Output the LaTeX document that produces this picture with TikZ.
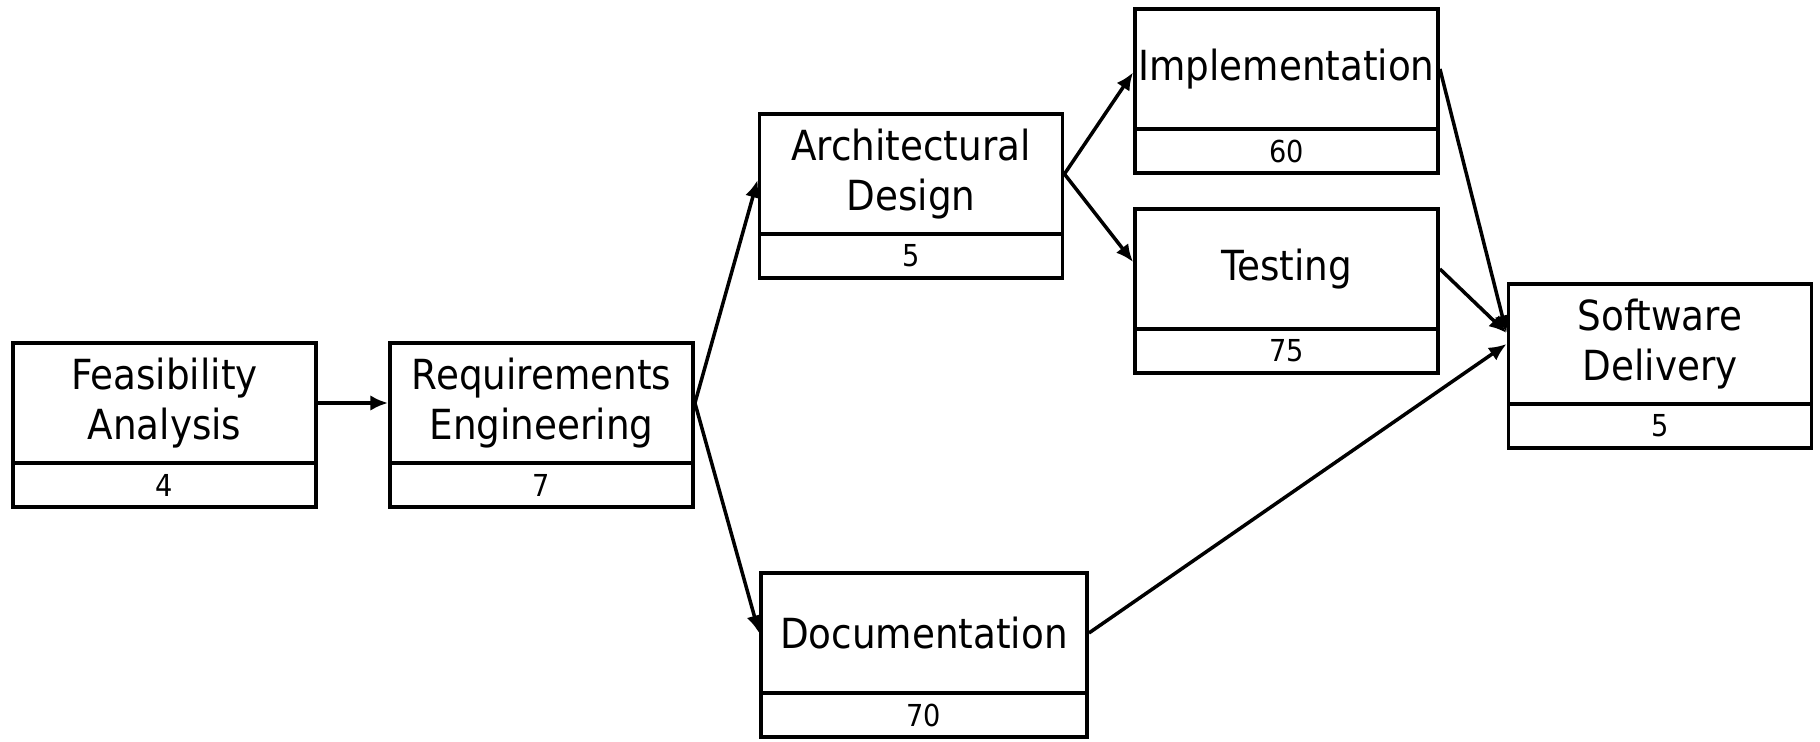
\documentclass[tikz,border=0pt]{standalone}
\usepackage{fontspec}
\setmainfont{DejaVu Sans Condensed}
\usetikzlibrary{arrows.meta}
\begin{document}
\begin{tikzpicture}[line width=1.1pt, every node/.style={font=\fontsize{11.8}{14.2}\selectfont}]
\tikzstyle{every node}+=[inner sep=0pt]
\tikzstyle{task}=[draw=black, minimum width=3.03cm, minimum height=1.2cm, align=center]
\tikzstyle{dur}=[draw=black, minimum width=3.03cm, minimum height=0.44cm, font=\fontsize{8.6}{10}\selectfont]
\tikzstyle{link}=[black, line width=1pt, -{Latex[length=5pt,width=4.4pt]}]
\useasboundingbox (0,0) rectangle (18.2,7.41);
\draw (1.645,3.38) node [task] (fa) {Feasibility\\Analysis};
\draw (1.645,2.56) node [dur] (fa-d) {4};
\draw (5.415,3.38) node [task] (re) {Requirements\\Engineering};
\draw (5.415,2.56) node [dur] (re-d) {7};
\draw (9.11,5.67) node [task] (ad) {Architectural\\Design};
\draw (9.11,4.85) node [dur] (ad-d) {5};
\draw (12.865,6.72) node [task] (im) {Implementation};
\draw (12.865,5.90) node [dur] (im-d) {60};
\draw (12.865,4.72) node [task] (te) {Testing};
\draw (12.865,3.90) node [dur] (te-d) {75};
\draw (16.60,3.97) node [task] (sd) {Software\\Delivery};
\draw (16.60,3.15) node [dur] (sd-d) {5};
\draw (9.24,1.08) node [task, minimum width=3.26cm] (do) {Documentation};
\draw (9.24,0.26) node [dur, minimum width=3.26cm] (do-d) {70};
\draw [link] (fa.east) -- (re.west);
\draw [link] (re.east) -- ([yshift=-0.06cm]ad.west);
\draw [link] (re.east) -- (do.west);
\draw [link] (ad.east) -- ([yshift=-0.035cm]im.west);
\draw [link] (ad.east) -- ([yshift=0.07cm]te.west);
\draw [link] (im.east) -- ([yshift=0.11cm]sd.west);
\draw [link] (te.east) -- ([yshift=0.11cm]sd.west);
\draw [link] (do.east) -- (sd.west);
\end{tikzpicture}
\end{document}
